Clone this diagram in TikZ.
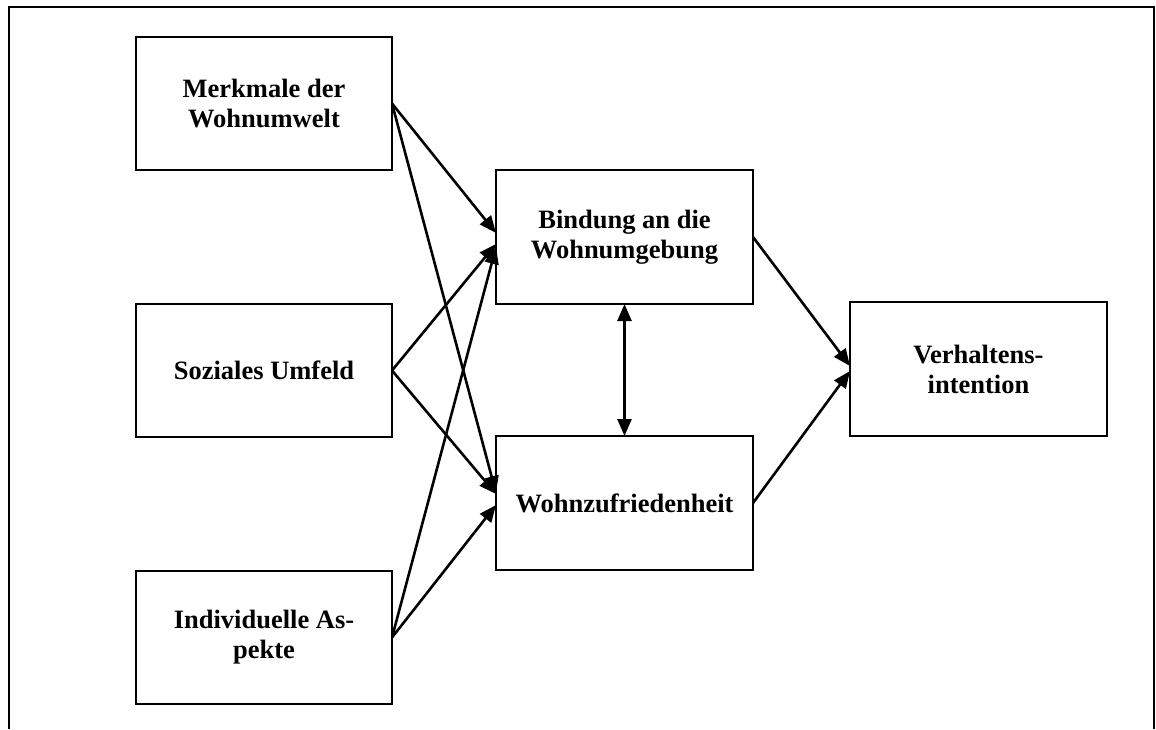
\documentclass[tikz,border=0pt]{standalone}
\usepackage{fontspec}
\setmainfont{Liberation Serif}
\usetikzlibrary{arrows.meta}
\begin{document}
\begin{tikzpicture}[x=1pt,y=-1pt,
  box/.style={draw,line width=2.2pt,minimum width=256pt,minimum height=133pt,
    inner sep=0pt,outer sep=0pt,align=center,
    font=\fontsize{26.5}{30}\selectfont\bfseries},
  tip/.tip={Triangle[length=17pt,width=14pt]},
  link/.style={line width=2.6pt,-tip},
  both/.style={line width=2.6pt,tip-tip}]
\useasboundingbox (0,0) rectangle (1156,729);
% open frame around the model
\draw[line width=2.8pt] (9,729) -- (9,7) -- (1154,7) -- (1154,729);

% predictors
\node[box] (merk) at (264,103.5) {Merkmale der\\Wohnumwelt};
\node[box] (sozi) at (264,370.5) {Soziales Umfeld};
\node[box] (indi) at (264,637.5) {Individuelle As-\\pekte};
% mediators
\node[box,minimum width=257pt,minimum height=134pt] (bind) at (624.5,237) {Bindung an die\\Wohnumgebung};
\node[box,minimum width=257pt,minimum height=134pt] (zufr) at (624.5,503) {Wohnzufriedenheit};
% outcome
\node[box,minimum width=257pt,minimum height=134pt] (verh) at (978.5,369) {Verhaltens-\\intention};

% paths to attachment
\draw[link] (merk.east) -- ([yshift=4pt]bind.west);
\draw[link] (sozi.east) -- ([yshift=-7pt]bind.west);
\draw[link] (indi.east) -- ([yshift=-10pt]bind.west);
% paths to satisfaction
\draw[link] (merk.east) -- ([yshift=10pt]zufr.west);
\draw[link] (sozi.east) -- ([yshift=9pt]zufr.west);
\draw[link] (indi.east) -- ([yshift=-2pt]zufr.west);
% mutual relation
\draw[both] (bind.south) -- (zufr.north);
% paths to intention
\draw[link] (bind.east) -- ([yshift=3pt]verh.west);
\draw[link] (zufr.east) -- ([yshift=-2pt]verh.west);
\end{tikzpicture}
\end{document}
